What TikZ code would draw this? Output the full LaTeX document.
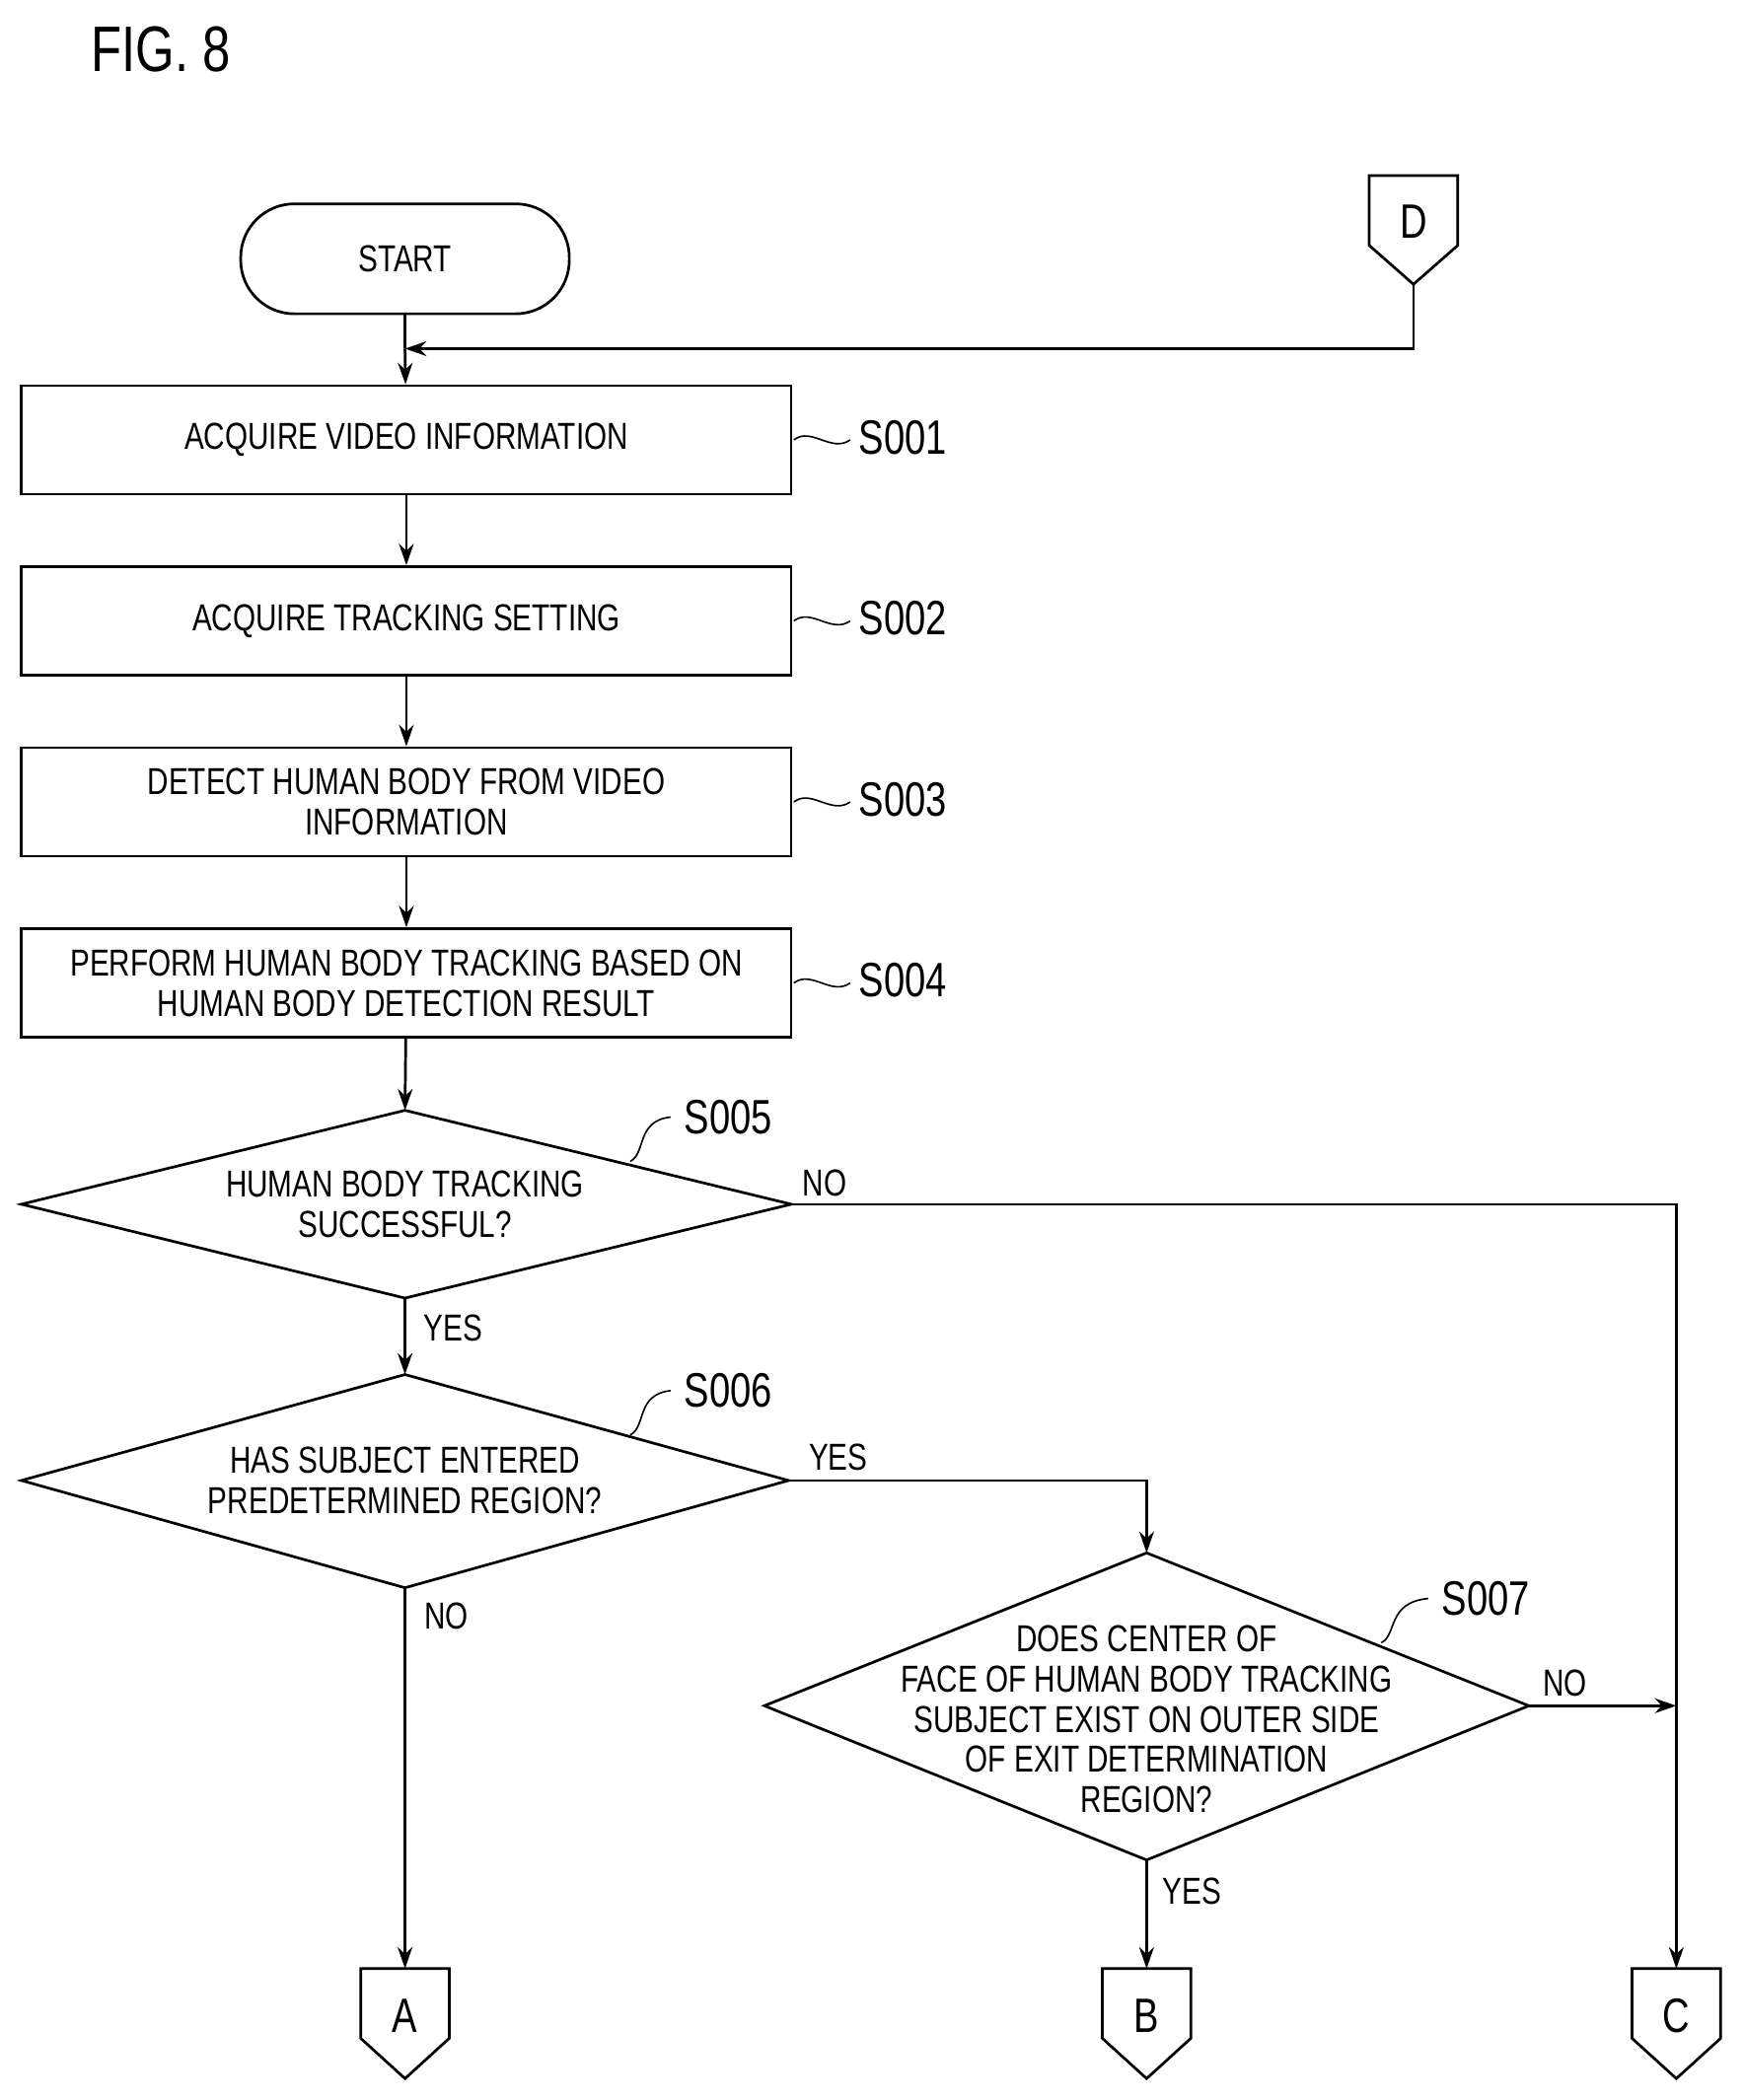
\documentclass[tikz,border=0pt]{standalone}
\usepackage{fontspec}
\setmainfont{Liberation Sans}[FakeStretch=0.78]
\usetikzlibrary{shapes.geometric,arrows.meta}
\begin{document}
\begin{tikzpicture}[x=1pt,y=-1pt,line width=2pt,
  box/.style={draw,minimum width=574pt,minimum height=81pt,align=center,font=\fontsize{28}{30}\selectfont},
  txt/.style={align=center,font=\fontsize{28}{30}\selectfont},
  lab/.style={font=\fontsize{36}{38}\selectfont},
  yn/.style={font=\fontsize{28}{30}\selectfont},
  arr/.style={-{Stealth[length=16pt,width=11pt]}}]
\useasboundingbox (0,0) rectangle (1300,1566);
\node[font=\fontsize{48}{50}\selectfont] (fig) at (120,37) {FIG. 8};
\node[draw,rounded corners=40pt,minimum width=245pt,minimum height=82pt,font=\fontsize{28}{30}\selectfont] (start) at (302,193) {START};
% connector D
\draw (1021,131) -- (1087,131) -- (1087,183) -- (1054,212) -- (1021,183) -- cycle;
\node[lab] (D) at (1054,165) {D};
\coordinate (Dbot) at (1054,212);
\coordinate (join) at (302,260);
\node[box] (s1) at (303,328) {ACQUIRE VIDEO INFORMATION};
\node[box] (s2) at (303,463) {ACQUIRE TRACKING SETTING};
\node[box] (s3) at (303,598) {DETECT HUMAN BODY FROM VIDEO\\INFORMATION};
\node[box] (s4) at (303,733) {PERFORM HUMAN BODY TRACKING BASED ON\\HUMAN BODY DETECTION RESULT};
% diamonds
\draw (16,898) -- (302,828) -- (590,898) -- (302,968) -- cycle;
\node[txt] (s5) at (302,898) {HUMAN BODY TRACKING\\SUCCESSFUL?};
\coordinate (s5n) at (302,828); \coordinate (s5e) at (590,898); \coordinate (s5s) at (302,968);
\draw (16,1104) -- (302,1025) -- (588,1104) -- (302,1184) -- cycle;
\node[txt] (s6) at (302,1104) {HAS SUBJECT ENTERED\\PREDETERMINED REGION?};
\coordinate (s6n) at (302,1025); \coordinate (s6e) at (588,1104); \coordinate (s6s) at (302,1184);
\draw (570,1272) -- (855,1158) -- (1140,1272) -- (855,1387) -- cycle;
\node[txt,font=\fontsize{28}{30}\selectfont] (s7) at (855,1282) {DOES CENTER OF\\FACE OF HUMAN BODY TRACKING\\SUBJECT EXIST ON OUTER SIDE\\OF EXIT DETERMINATION\\REGION?};
\coordinate (s7n) at (855,1158); \coordinate (s7e) at (1140,1272); \coordinate (s7s) at (855,1387);
% step labels
\foreach \n/\y in {1/328,2/463,3/598,4/733}{
  \draw[line width=1.2pt] (592,\y) .. controls (605,\y-10) and (620,\y+10) .. (634,\y);
  \node[lab,anchor=west] (l\n) at (636,\y-2) {S00\n};}
\node[lab] (l5) at (543,833) {S005};
\draw[line width=1.2pt] (470,866) .. controls (482,860) and (474,836) .. (500,833);
\node[lab] (l6) at (543,1037) {S006};
\draw[line width=1.2pt] (470,1070) .. controls (482,1064) and (474,1040) .. (500,1037);
\node[lab] (l7) at (1108,1192) {S007};
\draw[line width=1.2pt] (1030,1225) .. controls (1042,1219) and (1034,1195) .. (1065,1192);
% bottom connectors
\foreach \nm/\x in {A/302,B/855,C/1250}{
  \draw (\x-33,1468) -- (\x+33,1468) -- (\x+33,1520) -- (\x,1550) -- (\x-33,1520) -- cycle;
  \node[lab] (\nm) at (\x,1503) {\nm};
  \coordinate (\nm top) at (\x,1468);}
% connectors
\draw (start) -- (join);
\draw[arr] (Dbot) |- (join);
\draw[arr] (join) -- (s1);
\draw[arr] (s1) -- (s2);
\draw[arr] (s2) -- (s3);
\draw[arr] (s3) -- (s4);
\draw[arr] (s4) -- (s5n);
\draw[arr] (s5s) -- (s6n);
\draw[arr] (s5e) -| (Ctop);
\draw[arr] (s6e) -| (s7n);
\draw[arr] (s6s) -- (Atop);
\draw[arr] (s7s) -- (Btop);
\draw[arr] (s7e) -- (1250,1272);
\node[yn] (n5) at (615,882) {NO};
\node[yn] (y5) at (338,990) {YES};
\node[yn] (y6) at (625,1087) {YES};
\node[yn] (n6) at (333,1205) {NO};
\node[yn] (n7) at (1167,1255) {NO};
\node[yn] (y7) at (889,1410) {YES};
\end{tikzpicture}
\end{document}
